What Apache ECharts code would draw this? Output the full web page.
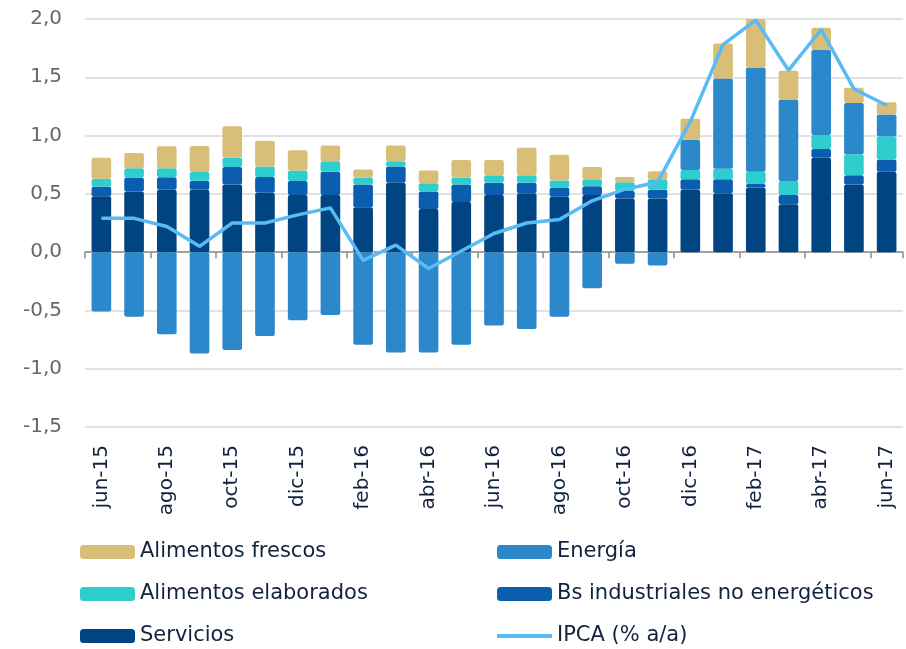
<!DOCTYPE html>
<html>
<head>
<meta charset="utf-8">
<script src="https://cdn.jsdelivr.net/npm/echarts@6/dist/echarts.min.js"></script>
<style>
  html, body { margin: 0; padding: 0; background: #fff; }
  #chart { width: 906px; height: 649px; }
</style>
</head>
<body>
<div id="chart"></div>
<script>
var months = ['jun-15', 'jul-15', 'ago-15', 'sep-15', 'oct-15', 'nov-15', 'dic-15',
  'ene-16', 'feb-16', 'mar-16', 'abr-16', 'may-16', 'jun-16', 'jul-16', 'ago-16',
  'sep-16', 'oct-16', 'nov-16', 'dic-16', 'ene-17', 'feb-17', 'mar-17', 'abr-17',
  'may-17', 'jun-17'];

var servicios = [0.48, 0.52, 0.535, 0.535, 0.58, 0.51, 0.49, 0.49, 0.385, 0.595, 0.37, 0.43,
  0.49, 0.505, 0.475, 0.49, 0.46, 0.46, 0.535, 0.505, 0.555, 0.41, 0.81, 0.58, 0.69];
var bsIndustriales = [0.08, 0.12, 0.107, 0.078, 0.15, 0.135, 0.12, 0.2, 0.195, 0.14, 0.15, 0.15,
  0.105, 0.09, 0.08, 0.075, 0.065, 0.075, 0.09, 0.12, 0.03, 0.08, 0.075, 0.08, 0.105];
var alimElaborados = [0.07, 0.08, 0.077, 0.074, 0.08, 0.09, 0.09, 0.09, 0.06, 0.045, 0.07, 0.06,
  0.065, 0.065, 0.06, 0.06, 0.075, 0.09, 0.08, 0.09, 0.105, 0.12, 0.12, 0.18, 0.2];
var energia = [-0.51, -0.555, -0.705, -0.87, -0.84, -0.72, -0.585, -0.54, -0.795, -0.86, -0.86, -0.795,
  -0.63, -0.66, -0.555, -0.31, -0.10, -0.115, 0.26, 0.775, 0.895, 0.70, 0.73, 0.44, 0.185];
var alimFrescos = [0.18, 0.13, 0.19, 0.224, 0.27, 0.22, 0.175, 0.135, 0.07, 0.135, 0.11, 0.15,
  0.13, 0.235, 0.22, 0.105, 0.045, 0.07, 0.18, 0.30, 0.42, 0.245, 0.19, 0.13, 0.105];
var ipca = [0.29, 0.29, 0.22, 0.05, 0.25, 0.25, 0.32, 0.38, -0.07, 0.06, -0.14, 0.01,
  0.16, 0.25, 0.28, 0.44, 0.54, 0.60, 1.12, 1.78, 1.99, 1.56, 1.91, 1.40, 1.26];

var textColor = '#12223f';
var font = '"DejaVu Sans", "Liberation Sans", Arial, sans-serif';

function barSeries(name, data, color) {
  return {
    name: name,
    type: 'bar',
    stack: 'total',
    data: data,
    barWidth: '60%',
    itemStyle: { color: color, borderRadius: 2 },
    emphasis: { disabled: true }
  };
}

// legends placed by hand so the two columns line up like the original
function legendBox(left, top, names, itemHeight) {
  return {
    orient: 'vertical',
    left: left,
    top: top,
    padding: 0,
    itemWidth: 55,
    itemHeight: itemHeight,
    itemGap: 18,
    icon: 'roundRect',
    textStyle: { fontSize: 21, color: textColor, lineHeight: 24, fontFamily: font },
    data: names
  };
}

var chart = echarts.init(document.getElementById('chart'));
var option = {
  animation: false,
  textStyle: { fontFamily: font },
  grid: { left: 85, right: 3, top: 19, bottom: 222 },
  xAxis: [
    {
      type: 'category',
      data: months,
      axisLine: { onZero: true, lineStyle: { color: '#8a8a8a', width: 1.5 } },
      axisTick: { show: true, interval: 1, length: 6, lineStyle: { color: '#8a8a8a', width: 1.5 } },
      axisLabel: { show: false },
      splitLine: { show: false }
    },
    {
      type: 'category',
      data: months,
      position: 'bottom',
      axisLine: { show: false, onZero: false },
      axisTick: { show: false },
      axisLabel: {
        interval: 1,
        rotate: 90,
        margin: 18,
        fontSize: 20,
        color: textColor,
        fontFamily: font
      }
    }
  ],
  yAxis: {
    type: 'value',
    min: -1.5,
    max: 2,
    interval: 0.5,
    axisLine: { show: false },
    axisTick: { show: false },
    axisLabel: {
      margin: 23,
      fontSize: 20,
      color: '#676767',
      fontFamily: font,
      formatter: function (v) { return v.toFixed(1).replace('.', ','); }
    },
    splitLine: { lineStyle: { color: '#d9d9d9', width: 1.5 } }
  },
  legend: [
    legendBox(80, 540, ['Alimentos frescos', 'Alimentos elaborados', 'Servicios'], 14),
    legendBox(497, 540, ['Energía', 'Bs industriales no energéticos'], 14),
    Object.assign(legendBox(497, 624, ['IPCA (% a/a)'], 4), { icon: 'rect' })
  ],
  series: [
    barSeries('Servicios', servicios, '#004582'),
    barSeries('Bs industriales no energéticos', bsIndustriales, '#0b5db0'),
    barSeries('Alimentos elaborados', alimElaborados, '#2fcece'),
    barSeries('Energía', energia, '#2b88cb'),
    barSeries('Alimentos frescos', alimFrescos, '#d8be77'),
    {
      name: 'IPCA (% a/a)',
      type: 'line',
      data: ipca,
      symbol: 'none',
      z: 5,
      lineStyle: { color: '#58bbf6', width: 3.5 },
      itemStyle: { color: '#58bbf6' },
      emphasis: { disabled: true }
    }
  ]
};
chart.setOption(option);
</script>
</body>
</html>
